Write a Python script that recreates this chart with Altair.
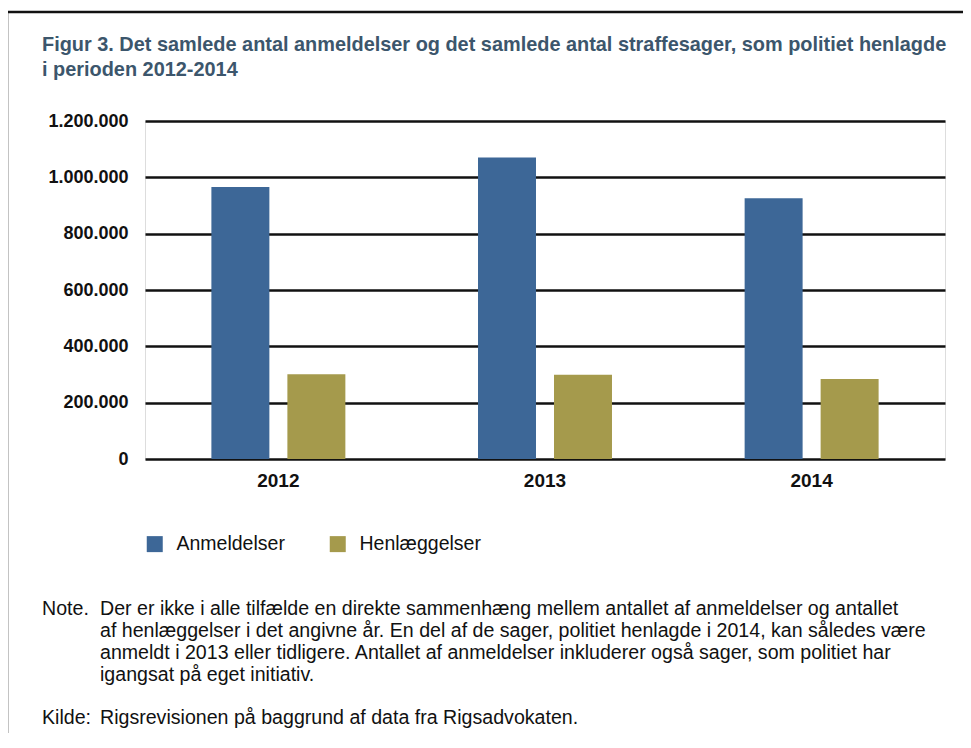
import altair as alt
import pandas as pd

# ---- data ----
years = ["2012", "2013", "2014"]
series = ["Anmeldelser", "Henlæggelser"]
anmeldelser = [966000, 1070000, 926000]
henlaeggelser = [301000, 299000, 284000]
y_ticks = [0, 200000, 400000, 600000, 800000, 1000000, 1200000]
colors = ["#3d6797", "#a59a4c"]

title_lines = [
    "Figur 3. Det samlede antal anmeldelser og det samlede antal straffesager, som politiet henlagde",
    "i perioden 2012-2014",
]
note_label = "Note."
note_lines = [
    "Der er ikke i alle tilfælde en direkte sammenhæng mellem antallet af anmeldelser og antallet",
    "af henlæggelser i det angivne år. En del af de sager, politiet henlagde i 2014, kan således være",
    "anmeldt i 2013 eller tidligere. Antallet af anmeldelser inkluderer også sager, som politiet har",
    "igangsat på eget initiativ.",
]
source_label = "Kilde:"
source_line = "Rigsrevisionen på baggrund af data fra Rigsadvokaten."

FONT = "Liberation Sans"
NOTE_SIZE = 19.6

df = pd.DataFrame({
    "year": years * 2,
    "series": [series[0]] * len(years) + [series[1]] * len(years),
    "value": anmeldelser + henlaeggelser,
})
one = pd.DataFrame({"k": [0]})

bars = alt.Chart(df).mark_bar().encode(
    x=alt.X("year:N", sort=years,
            scale=alt.Scale(paddingInner=0.4975, paddingOuter=0.249),
            axis=alt.Axis(title=None, labelAngle=0, labelFont=FONT, labelFontSize=19,
                          labelFontWeight="bold", labelColor="#111", ticks=False,
                          domain=False, labelPadding=12, grid=False)),
    xOffset=alt.XOffset("series:N", sort=series,
                        scale=alt.Scale(paddingInner=0.237, paddingOuter=0)),
    y=alt.Y("value:Q", scale=alt.Scale(domain=[0, 1200000], nice=False),
            axis=alt.Axis(title=None, values=y_ticks,
                          labelExpr="replace(format(datum.value, ','), regexp(',', 'g'), '.')",
                          grid=True, gridColor="#111", gridWidth=2.5, ticks=False,
                          domain=False, labelPadding=17, labelFont=FONT, labelFontSize=18,
                          labelFontWeight="bold", labelColor="#111")),
    color=alt.Color("series:N", sort=series,
                    scale=alt.Scale(domain=series, range=colors),
                    legend=alt.Legend(title=None, orient="none", legendX=0, legendY=413,
                                      direction="horizontal", symbolType="square",
                                      symbolSize=256, symbolStrokeWidth=0, symbolOpacity=1,
                                      labelFont=FONT, labelFontSize=19.5, labelColor="#111",
                                      labelOffset=12, columnPadding=43, padding=0)),
)

border_top = alt.Chart(one).mark_rule(color="#111", strokeWidth=2.5).encode(
    x=alt.value(-138), x2=alt.value(830), y=alt.value(-109))
border_left = alt.Chart(one).mark_rule(color="#111", strokeWidth=2.5).encode(
    x=alt.value(-138), y=alt.value(-109), y2=alt.value(615))

title = alt.Chart(one).mark_text(
    text=title_lines, align="left", baseline="alphabetic", font=FONT, fontSize=19.9,
    fontWeight="bold", color="#3c566c", lineHeight=25
).encode(x=alt.value(-103), y=alt.value(-70))

note_l = alt.Chart(one).mark_text(
    text=note_label, align="left", baseline="alphabetic", font=FONT, fontSize=NOTE_SIZE, color="#111"
).encode(x=alt.value(-103), y=alt.value(494))
note_t = alt.Chart(one).mark_text(
    text=note_lines, align="left", baseline="alphabetic", font=FONT, fontSize=NOTE_SIZE,
    color="#111", lineHeight=22
).encode(x=alt.value(-45), y=alt.value(494))
src_l = alt.Chart(one).mark_text(
    text=source_label, align="left", baseline="alphabetic", font=FONT, fontSize=NOTE_SIZE, color="#111"
).encode(x=alt.value(-103), y=alt.value(603))
src_t = alt.Chart(one).mark_text(
    text=source_line, align="left", baseline="alphabetic", font=FONT, fontSize=NOTE_SIZE, color="#111"
).encode(x=alt.value(-45), y=alt.value(603))

chart = alt.layer(
    bars, border_top, border_left, title, note_l, note_t, src_l, src_t
).properties(
    width=800, height=338,
    autosize=alt.AutoSizeParams(type="none"),
    padding={"left": 137, "top": 113, "right": 18, "bottom": 274},
).configure_view(stroke="#000", strokeWidth=2.5).configure(font=FONT, background="white")

chart.save("out.html", embed_options={"renderer": "svg", "actions": False})
